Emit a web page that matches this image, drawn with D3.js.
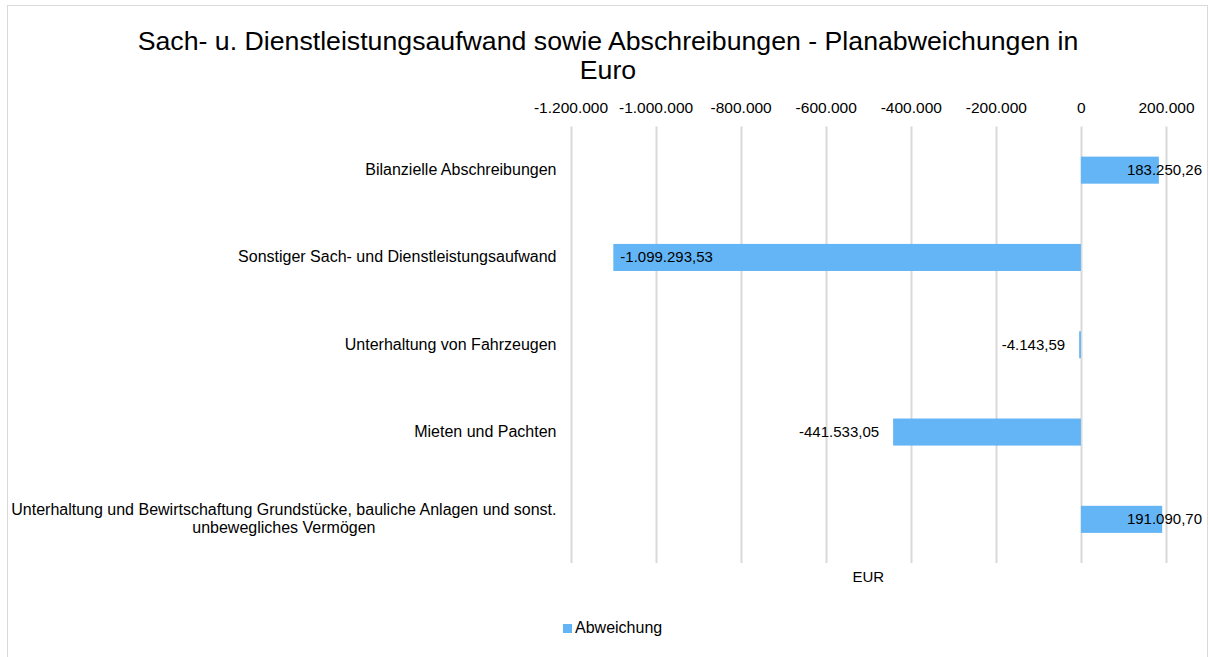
<!DOCTYPE html>
<html>
<head>
<meta charset="utf-8">
<script src="https://cdn.jsdelivr.net/npm/d3@7"></script>
<style>
  html, body { margin: 0; padding: 0; background: #fff; }
  svg { display: block; font-family: "Liberation Sans", Arial, sans-serif; }
</style>
</head>
<body>
<svg id="chart" width="1209" height="657"></svg>
<script>
// ---- data ----
const titleLines = ["Sach- u. Dienstleistungsaufwand sowie Abschreibungen - Planabweichungen in", "Euro"];
const categories = [
  "Bilanzielle Abschreibungen",
  "Sonstiger Sach- und Dienstleistungsaufwand",
  "Unterhaltung von Fahrzeugen",
  "Mieten und Pachten",
  "Unterhaltung und Bewirtschaftung Grundstücke, bauliche Anlagen und sonst. unbewegliches Vermögen"
];
const values = [183250.26, -1099293.53, -4143.59, -441533.05, 191090.70];
const tickValues = [-1200000, -1000000, -800000, -600000, -400000, -200000, 0, 200000];
const seriesName = "Abweichung";
const axisTitle = "EUR";

// ---- setup ----
const locale = d3.formatLocale({decimal: ",", thousands: ".", grouping: [3], currency: ["", " €"], minus: "-"});
const fmtTick = locale.format(",.0f");
const fmtVal = locale.format(",.2f");

const svg = d3.select("#chart");
const barColor = "#64B5F6";
const gridColor = "#D9D9D9";
const textColor = "#000";

// chart border
svg.append("rect").attr("x", 7.5).attr("y", 5.5).attr("width", 1200).attr("height", 660)
  .attr("fill", "none").attr("stroke", gridColor).attr("stroke-width", 1);

const plot = {left: 570.5, right: 1166, top: 126.5, bottom: 563};

const x = d3.scaleLinear().domain([-1200000, 200000]).range([plot.left, plot.right]);
const y = d3.scaleBand().domain(categories).range([plot.top, plot.bottom]).paddingInner(0.69).paddingOuter(0.345);

// title
svg.append("text").attr("x", 608).attr("y", 50).attr("text-anchor", "middle")
  .attr("font-size", 26.7).attr("fill", textColor)
  .selectAll("tspan").data(titleLines).join("tspan")
  .attr("x", 608).attr("dy", (d, i) => i === 0 ? 0 : 29).text(d => d);

// gridlines
svg.append("g").selectAll("line").data(tickValues).join("line")
  .attr("x1", d => Math.round(x(d)) + 0.5).attr("x2", d => Math.round(x(d)) + 0.5)
  .attr("y1", plot.top).attr("y2", plot.bottom)
  .attr("stroke", gridColor).attr("stroke-width", 2);

// top axis labels
const axis = d3.axisTop(x).tickValues(tickValues).tickFormat(fmtTick).tickSize(0).tickPadding(0);
const gAxis = svg.append("g").attr("transform", `translate(0,113)`).call(axis);
gAxis.select(".domain").remove();
gAxis.selectAll("text").attr("font-size", 15.5).attr("fill", textColor)
  .attr("font-family", "Liberation Sans, Arial, sans-serif").attr("dy", 0);

// bars
svg.append("g").selectAll("rect").data(values).join("rect")
  .attr("x", d => x(Math.min(0, d)))
  .attr("width", d => Math.max(1, Math.abs(x(d) - x(0))))
  .attr("y", (d, i) => y(categories[i]))
  .attr("height", y.bandwidth())
  .attr("fill", barColor);

// category labels (wrapped, centered lines, box right-aligned)
const labelRight = 556.5;
const catFont = 16;
const gCat = svg.append("g").attr("font-size", catFont).attr("fill", textColor);
const measure = svg.append("text").attr("font-size", catFont).attr("visibility", "hidden");
function textWidth(s) { measure.text(s); return measure.node().getComputedTextLength(); }
function wrap(s, maxW) {
  const words = s.split(" ");
  const lines = [];
  let cur = "";
  words.forEach(w => {
    const t = cur ? cur + " " + w : w;
    if (textWidth(t) > maxW && cur) { lines.push(cur); cur = w; } else cur = t;
  });
  if (cur) lines.push(cur);
  return lines;
}
categories.forEach((c, i) => {
  const lines = wrap(c, 600);
  const boxW = d3.max(lines, textWidth);
  const cx = labelRight - boxW / 2;
  const cy = y(c) + y.bandwidth() / 2;
  const lh = 18;
  const first = cy + 5 - (lines.length - 1) * lh / 2;
  const t = gCat.append("text").attr("text-anchor", "middle");
  lines.forEach((l, j) => t.append("tspan").attr("x", cx).attr("y", first + j * lh).text(l));
});
measure.remove();

// data labels
const gLab = svg.append("g").attr("font-size", 15).attr("fill", textColor);
const chartRight = 1202;
values.forEach((v, i) => {
  const cy = y(categories[i]) + y.bandwidth() / 2 + 5;
  const txt = fmtVal(v);
  const t = gLab.append("text").attr("y", cy).text(txt);
  const w = t.node().getComputedTextLength();
  let xs;
  if (v >= 0) {
    xs = x(v) + 7;
    if (xs + w > chartRight) xs = chartRight - w;
  } else {
    xs = x(v) - 14 - w;
    if (xs < plot.left) xs = x(v) + 7;
  }
  t.attr("x", xs);
});

// axis title
svg.append("text").attr("x", (plot.left + plot.right) / 2).attr("y", 582)
  .attr("text-anchor", "middle").attr("font-size", 15).attr("fill", textColor).text(axisTitle);

// legend
const gLeg = svg.append("g");
gLeg.append("rect").attr("x", 563).attr("y", 624).attr("width", 9).attr("height", 9).attr("fill", barColor);
gLeg.append("text").attr("x", 575).attr("y", 633).attr("font-size", 16).attr("fill", textColor).text(seriesName);
</script>
</body>
</html>
